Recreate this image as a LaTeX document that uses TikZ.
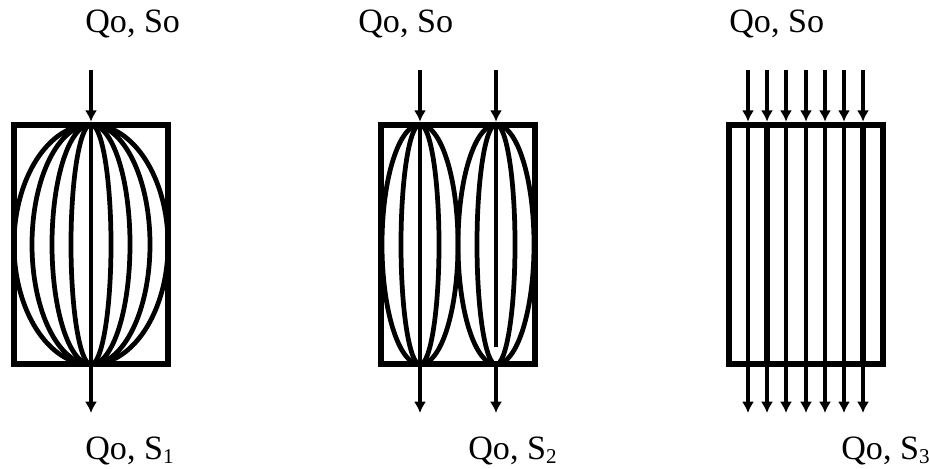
\documentclass[tikz,border=0pt]{standalone}
\usepackage{fontspec}
\setmainfont{Liberation Serif}
\usepackage{xcolor}
\usetikzlibrary{positioning, arrows.meta, calc}

\newcommand{\lowdigit}[1]{\raisebox{-2.5pt}{\fontsize{12}{12}\selectfont #1}}

\begin{document}
\begin{tikzpicture}[
    x=0.02cm, y=-0.02cm,
    tank/.style={draw=black, line width=3.8pt, minimum width=3.08cm, minimum height=4.78cm, inner sep=0pt},
    flow/.style={line width=2.7pt, black, -{Latex[length=6.5pt, width=7pt]}},
    stream/.style={line width=2.7pt, black},
    thickstream/.style={line width=3.8pt, black},
    tag/.style={anchor=base west, inner sep=0pt, font=\fontsize{19.4}{22}\selectfont},
]
    \useasboundingbox (0,0) rectangle (929,468);

    % Labels
    \node[tag] (top1) at (85,32) {Qo, So};
    \node[tag] (top2) at (358,32) {Qo, So};
    \node[tag] (top3) at (729,32) {Qo, So};
    \node[tag] (bottom1) at (85,459) {Qo, S\lowdigit{1}};
    \node[tag] (bottom2) at (468,459) {Qo, S\lowdigit{2}};
    \node[tag] (bottom3) at (841,459) {Qo, S\lowdigit{3}};

    % Single bundle
    \coordinate (lens1) at (91,244.5);
    \foreach \r in {77,59,39,20} {
        \draw[stream] (lens1) ellipse [x radius=\r, y radius=120];
    }
    \draw[stream] (91,125) -- (91,364);
    \node[tank] (box1) at (lens1) {};
    \coordinate (in1) at (91,70);
    \coordinate (out1) at (91,413);
    \draw[flow] (in1) -- (box1.north);
    \draw[flow] (box1.south) -- (out1);

    % Two bundles
    \coordinate (lens2) at (420,244.5);
    \coordinate (lens3) at (496,244.5);
    \foreach \r in {38,19} {
        \draw[stream] (lens2) ellipse [x radius=\r, y radius=120];
        \draw[stream] (lens3) ellipse [x radius=\r, y radius=120];
    }
    \draw[stream] (420,125) -- (420,364);
    \draw[stream] (496,125) -- (496,347);
    \node[tank] (box2) at (458,244.5) {};
    \coordinate (in2) at (420,70);
    \coordinate (in3) at (496,70);
    \coordinate (out2) at (420,413);
    \coordinate (out3) at (496,413);
    \draw[flow] (in2) -- (in2 |- box2.north);
    \draw[flow] (in3) -- (in3 |- box2.north);
    \draw[flow] (out2 |- box2.south) -- (out2);
    \draw[flow] (out3 |- box2.south) -- (out3);

    % Plug flow
    \node[tank] (box3) at (806,244.5) {};
    \foreach \x/\s in {748/stream,767/thickstream,786/stream,806/stream,825/stream,844/stream,863/thickstream} {
        \coordinate (in\x) at (\x,70);
        \coordinate (out\x) at (\x,413);
        \draw[\s] (in\x |- box3.north) -- (out\x |- box3.south);
        \draw[flow] (in\x) -- (in\x |- box3.north);
        \draw[flow] (out\x |- box3.south) -- (out\x);
    }
\end{tikzpicture}
\end{document}
